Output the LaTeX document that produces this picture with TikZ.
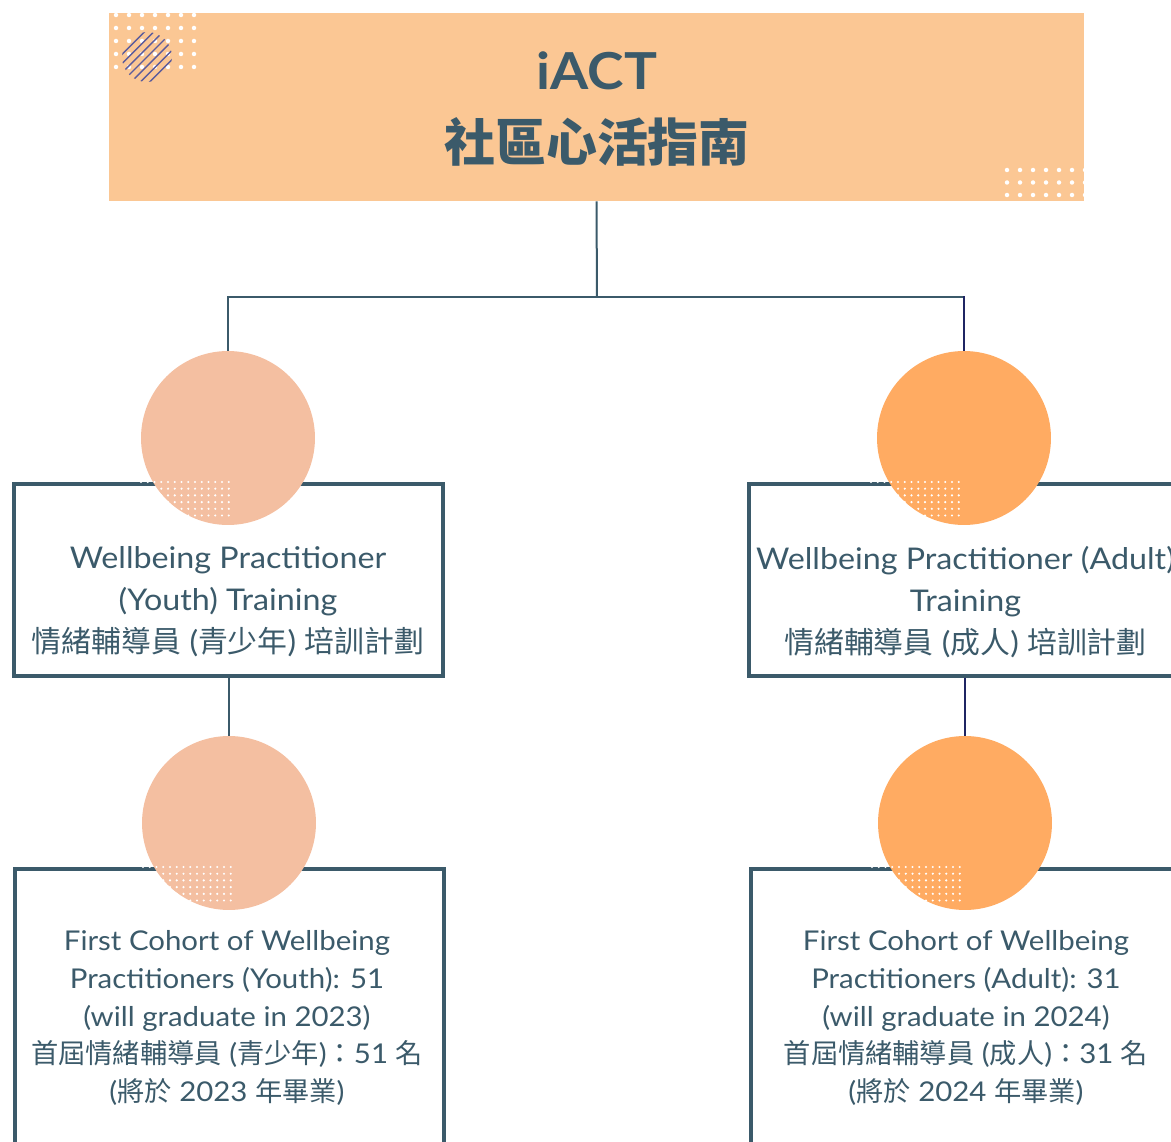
\documentclass[tikz,border=0pt]{standalone}
\usepackage{fontspec}
\setmainfont{Lato}[FakeStretch=1.08]
\newfontfamily\cjk{Noto Sans CJK TC}
\usetikzlibrary{positioning}
\definecolor{peach}{HTML}{FBC794}
\definecolor{ink}{HTML}{3B5A6A}
\definecolor{navy}{HTML}{1F2563}
\definecolor{salmon}{HTML}{F4BFA1}
\definecolor{tangerine}{HTML}{FFAB62}
\definecolor{hatchcol}{HTML}{5B5B9C}

\begin{document}
\begin{tikzpicture}[x=0.02cm,y=-0.02cm,
    frame/.style={draw=ink,line width=0.08cm,minimum width=8.58cm,minimum height=3.84cm,inner sep=0pt},
    ball/.style={circle,inner sep=0pt,minimum size=3.48cm},
    boxtext/.style={text=ink,align=center,font=\fontsize{17}{23.9}\selectfont},
    cohorttext/.style={text=ink,align=center,font=\fontsize{15.5}{21.6}\selectfont},
    link/.style={draw=ink,line width=0.04cm}]

        \useasboundingbox (0,0) rectangle (1171,1142);

        % header
        \node[fill=peach,minimum width=19.5cm,minimum height=3.76cm,inner sep=0pt] (head) at (596.5,107) {};
        \foreach \i in {0,...,6}
            \foreach \j in {0,...,4}
                \fill[white] (116+13*\i,15+13*\j) circle (0.045cm);
        \begin{scope}
            \clip (147,57) circle (0.5cm);
            \foreach \k in {-5,...,5}
                \draw[hatchcol,line width=0.028cm] (117+4.6*\k,87+4.6*\k) -- (177+4.6*\k,27+4.6*\k);
        \end{scope}
        \foreach \i in {0,...,6}
            \foreach \j in {0,...,2}
                \fill[white] (1007+13*\i,170+12.5*\j) circle (0.045cm);
        \node[text=ink,align=center,font=\bfseries\fontsize{29}{41}\selectfont] (title) at (597,109) {iACT\\{\cjk 社區心活指南}};

        % boxes and circles
        \node[frame] (ybox) at (228.5,580) {};
        \node[frame] (abox) at (963.5,580) {};
        \node[frame,minimum height=5.82cm] (ybox2) at (229.5,1014.5) {};
        \node[frame,minimum height=5.82cm] (abox2) at (965.5,1014.5) {};
        \node[ball,fill=salmon] (ycirc) at (228,438) {};
        \node[ball,fill=tangerine] (acirc) at (964,438) {};
        \node[ball,fill=salmon] (ycirc2) at (229,823) {};
        \node[ball,fill=tangerine] (acirc2) at (965,823) {};

        % dots
        \foreach \x/\y in {141/482, 871/482, 143/867, 872/867}
            \foreach \i in {0,...,13}
                \foreach \j in {0,...,5}
                    \fill[white] (\x+6.75*\i,\y+6.7*\j) circle (0.024cm);

        % connectors
        \coordinate (split) at (597,297);
        \draw[link] (head.south) -- (split);
        \draw[link] (ycirc.north) |- (split);
        \draw[link] (split) -| (acirc.north);
        \draw[link,draw=navy] (acirc.north) -- ++(0,-55);
        \draw[link] (ycirc2.north |- ybox.south) -- (ycirc2.north);
        \draw[link,draw=navy] (acirc2.north |- abox.south) -- (acirc2.north);

        % texts
        \node[boxtext] (ytext) at (228,602) {Wellbeing Practitioner\\(Youth) Training\\{\cjk 情緒輔導員} ({\cjk 青少年}) {\cjk 培訓計劃}};
        \node[boxtext] (atext) at (965.5,602) {Wellbeing Practitioner (Adult)\\Training\\{\cjk 情緒輔導員} ({\cjk 成人}) {\cjk 培訓計劃}};
        \node[cohorttext] (ycohort) at (227,1018) {First Cohort of Wellbeing\\Practitioners (Youth): 51\\(will graduate in 2023)\\{\cjk 首屆情緒輔導員} ({\cjk 青少年}){\cjk ：}51 {\cjk 名}\\({\cjk 將於} 2023 {\cjk 年畢業})};
        \node[cohorttext] (acohort) at (966,1018) {First Cohort of Wellbeing\\Practitioners (Adult): 31\\(will graduate in 2024)\\{\cjk 首屆情緒輔導員} ({\cjk 成人}){\cjk ：}31 {\cjk 名}\\({\cjk 將於} 2024 {\cjk 年畢業})};
\end{tikzpicture}
\end{document}
